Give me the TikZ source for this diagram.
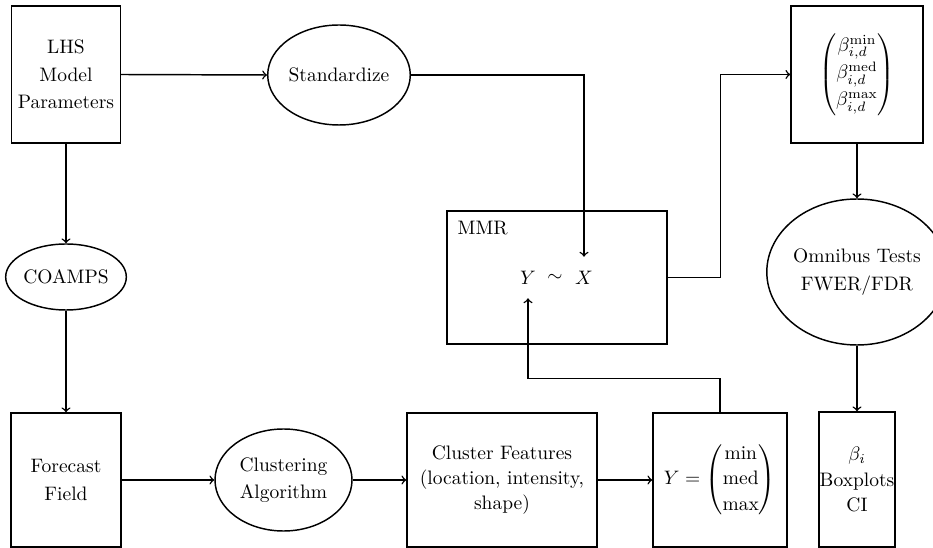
\documentclass[tikz,border=0pt]{standalone}
\usepackage{amsmath}
\usetikzlibrary{shapes.geometric,calc}
\newcommand\pu{0.513pt}
\begin{document}
\begin{tikzpicture}[x=0.513pt,y=-0.513pt,
  line width=0.75pt,
  >=to,
  box/.style={draw, rectangle, inner sep=0pt, align=center},
  oval/.style={draw, ellipse, inner sep=0pt, align=center},
  sym/.style={inner sep=1pt}]
\useasboundingbox (0,0) rectangle (933,548);

\node[box, minimum width=109*\pu, minimum height=137*\pu] (lhs) at (66,74.5) {LHS\\[2pt]Model\\[2pt]Parameters};
\node[oval, minimum width=136*\pu, minimum height=100*\pu] (std) at (339,75) {Standardize};
\node[oval, minimum width=110*\pu, minimum height=66*\pu] (coamps) at (66,277) {COAMPS};
\node[box, minimum width=110*\pu, minimum height=134*\pu] (ff) at (66,480) {Forecast\\[2pt]Field};
\node[oval, minimum width=137*\pu, minimum height=102*\pu] (ca) at (283.5,480) {Clustering\\[2pt]Algorithm};
\node[box, minimum width=190*\pu, minimum height=134*\pu] (cf) at (502,480) {Cluster Features\\[1pt](location, intensity,\\[1pt]shape)};
\node[box, minimum width=134*\pu, minimum height=134*\pu] (yb) at (720,480) {$Y=\begin{pmatrix}\text{min}\\[1pt]\text{med}\\[1pt]\text{max}\end{pmatrix}$};
\node[box, minimum width=76*\pu, minimum height=135*\pu] (ci) at (857,479.5) {$\beta_i$\\[1pt]Boxplots\\[1pt]CI};
\node[oval, minimum width=160*\pu, minimum height=146*\pu] (omni) at (857,272) {Omnibus Tests\\[2pt]FWER/FDR};
\node[box, minimum width=132*\pu, minimum height=137*\pu] (beta) at (857,74.5) {$\begin{pmatrix}\beta_{i,d}^{\min}\\[2pt]\beta_{i,d}^{\mathrm{med}}\\[2pt]\beta_{i,d}^{\max}\end{pmatrix}$};
\node[box, minimum width=220*\pu, minimum height=133*\pu] (mmr) at (557,277.5) {};
\node[anchor=north west, inner sep=0pt] (mmrlabel) at (457,220) {MMR};
\node[sym] (Y) at (528,278) {$Y$};
\node[sym] (sim) at (555,278) {$\sim$};
\node[sym] (X) at (584,278) {$X$};

\draw[->] (lhs.east) -- (std.west);
\draw[->] (lhs.south) -- (coamps.north);
\draw[->] (coamps.south) -- (ff.north);
\draw[->] (ff.east) -- (ca.west);
\draw[->] (ca.east) -- (cf.west);
\draw[->] (cf.east) -- (yb.west);
\draw[->] (std.east) -| ($(X.north)+(0,-12)$);
\draw[->] (yb.north) -- ++(0,-34) -| ($(Y.south)+(0,11)$);
\draw[->] (mmr.east) -- ++(53,0) |- (beta.west);
\draw[->] (beta.south) -- (omni.north);
\draw[->] (omni.south) -- (ci.north);
\end{tikzpicture}
\end{document}
